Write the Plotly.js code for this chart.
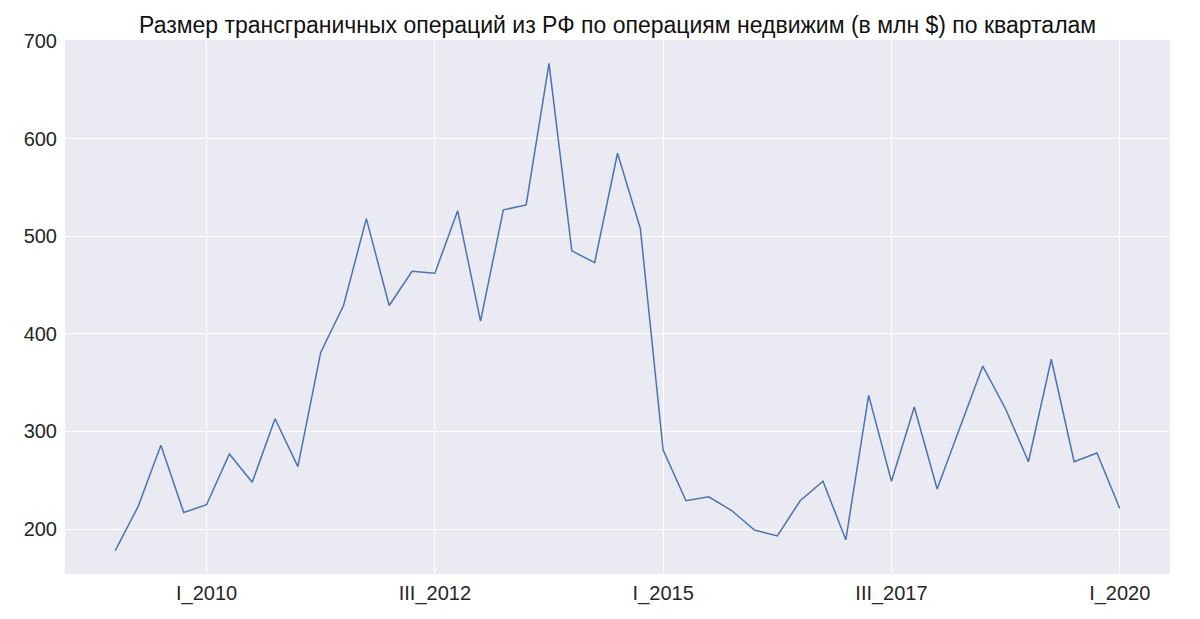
<!DOCTYPE html>
<html>
<head>
<meta charset="utf-8">
<script src="https://cdn.plot.ly/plotly-3.0.1.min.js"></script>
<style>html,body{margin:0;padding:0;background:#fff;}#chart{width:1200px;height:619px;}</style>
</head>
<body>
<div id="chart"></div>
<script>
const romans = ['I', 'II', 'III', 'IV'];
const years = [2009, 2010, 2011, 2012, 2013, 2014, 2015, 2016, 2017, 2018, 2019, 2020];
const quarters = [];
years.forEach(y => romans.forEach(r => quarters.push(r + '_' + y)));
const categories = quarters.slice(0, 45); // I_2009 .. I_2020

const values = [
  178, 223, 286, 217, 225, 277, 248, 313, 264, 381,
  429, 518, 429, 464, 462, 526, 413, 527, 532, 677,
  485, 473, 585, 508, 281, 229, 233, 219, 199, 193,
  229, 249, 189, 337, 249, 325, 241, 305, 367, 323,
  269, 374, 269, 278, 221
];

const tickLabels = ['I_2010', 'III_2012', 'I_2015', 'III_2017', 'I_2020'];
const yTicks = [200, 300, 400, 500, 600, 700];

const trace = {
  x: categories,
  y: values,
  type: 'scatter',
  mode: 'lines',
  line: {color: '#4C72B0', width: 1.5},
  hoverinfo: 'x+y'
};

const layout = {
  width: 1200,
  height: 619,
  margin: {l: 65, r: 30, t: 40, b: 45},
  paper_bgcolor: '#ffffff',
  plot_bgcolor: '#EAEAF2',
  font: {family: 'Liberation Sans, Arial, sans-serif', color: '#262626', size: 20},
  title: {
    text: 'Размер трансграничных операций из РФ по операциям недвижим (в млн $) по кварталам',
    font: {family: 'Liberation Sans, Arial, sans-serif', size: 23, color: '#111111'},
    x: 0.5147, xanchor: 'center', y: 0.96, yanchor: 'middle'
  },
  showlegend: false,
  xaxis: {
    type: 'category',
    categoryorder: 'array',
    categoryarray: categories,
    range: [-2.2, 46.2],
    tickmode: 'array',
    tickvals: tickLabels,
    ticktext: tickLabels,
    showgrid: true,
    gridcolor: '#ffffff',
    gridwidth: 1,
    zeroline: false,
    showline: false,
    ticks: '',
    ticklabelstandoff: 5,
    tickfont: {size: 20, color: '#262626'}
  },
  yaxis: {
    range: [154, 701],
    tickmode: 'array',
    tickvals: yTicks,
    ticktext: yTicks.map(String),
    showgrid: true,
    gridcolor: '#ffffff',
    gridwidth: 1,
    zeroline: false,
    showline: false,
    ticks: '',
    ticklabelstandoff: 7,
    tickfont: {size: 20, color: '#262626'}
  }
};

Plotly.newPlot('chart', [trace], layout, {displayModeBar: false, staticPlot: true});
</script>
</body>
</html>
